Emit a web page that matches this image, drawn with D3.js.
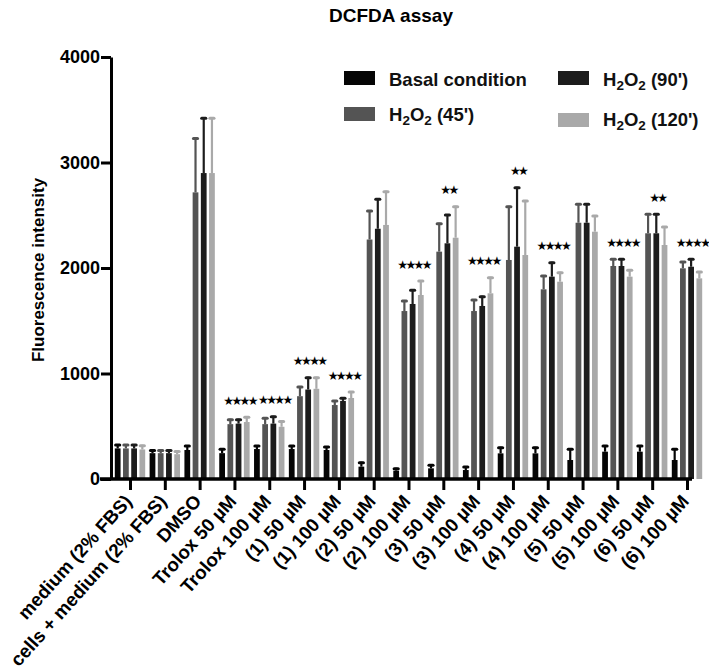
<!DOCTYPE html>
<html>
<head>
<meta charset="utf-8">
<script src="https://cdn.jsdelivr.net/npm/d3@7"></script>
<style>
  html, body { margin: 0; padding: 0; background: #fff; }
  svg { display: block; }
  text { font-family: "Liberation Sans", Arial, Helvetica, sans-serif; }
</style>
</head>
<body>
<svg id="chart" width="709" height="670"></svg>
<script>
const categories = ["medium (2% FBS)", "cells + medium (2% FBS)", "DMSO", "Trolox 50 µM", "Trolox 100 µM",
  "(1) 50 µM", "(1) 100 µM", "(2) 50 µM", "(2) 100 µM", "(3) 50 µM", "(3) 100 µM",
  "(4) 50 µM", "(4) 100 µM", "(5) 50 µM", "(5) 100 µM", "(6) 50 µM", "(6) 100 µM"];

const seriesNames = ["Basal condition", "H2O2 (45')", "H2O2 (90')", "H2O2 (120')"];

const basal    = [290, 245, 275, 245, 284, 284, 275, 117, 79, 101, 85, 243, 243, 180, 259, 259, 180];
const basalSD  = [42, 35, 47, 46, 38, 38, 38, 47, 28, 38, 38, 63, 63, 111, 63, 63, 111];
const h45      = [290, 245, 2717, 520, 520, 785, 701, 2270, 1592, 2155, 1592, 2076, 1798, 2429, 2019, 2329, 1997];
const h45SD    = [42, 35, 521, 52, 65, 97, 48, 280, 105, 274, 114, 514, 136, 184, 73, 190, 69];
const h90      = [290, 245, 2900, 525, 525, 848, 740, 2372, 1659, 2234, 1640, 2202, 1918, 2429, 2019, 2329, 2012];
const h90SD    = [42, 35, 528, 47, 75, 122, 35, 288, 139, 278, 98, 568, 142, 184, 73, 190, 80];
const h120     = [280, 235, 2900, 540, 495, 855, 768, 2408, 1744, 2287, 1760, 2123, 1870, 2344, 1918, 2218, 1902];
const h120SD   = [45, 35, 528, 55, 60, 115, 66, 325, 142, 304, 158, 522, 95, 158, 70, 180, 70];

const significance = ["", "", "", "****", "****", "****", "****", "", "****", "**", "****", "**", "****", "", "****", "**", "****"];

const yTicks = [0, 1000, 2000, 3000, 4000];
const colors = ["#050505", "#545454", "#1c1c1c", "#a9a9a9"];

const means = [basal, h45, h90, h120];
const sds = [basalSD, h45SD, h90SD, h120SD];

const svg = d3.select("#chart");

const y = d3.scaleLinear().domain([0, 4000]).range([479, 57]);
const x = d3.scalePoint().domain(categories).range([130, 687]);
const sub = d3.scaleBand().domain(d3.range(4)).range([-15.2, 15.2]).paddingInner(0.3);

// Title
svg.append("text")
  .attr("x", 391).attr("y", 22)
  .attr("text-anchor", "middle")
  .attr("font-size", 19).attr("font-weight", "bold")
  .text("DCFDA assay");

// Bars
const groups = svg.append("g").selectAll("g")
  .data(categories).join("g")
  .attr("transform", d => `translate(${x(d)},0)`);

groups.each(function(cat, ci) {
  const g = d3.select(this);
  for (let s = 0; s < 4; s++) {
    const m = means[s][ci], sd = sds[s][ci];
    const bx = sub(s), bw = sub.bandwidth();
    g.append("rect")
      .attr("x", bx).attr("width", bw)
      .attr("y", y(m)).attr("height", y(0) - y(m))
      .attr("fill", colors[s]);
    g.append("line")
      .attr("x1", bx + bw / 2).attr("x2", bx + bw / 2)
      .attr("y1", y(m)).attr("y2", y(m + sd))
      .attr("stroke", colors[s]).attr("stroke-width", 2.2);
    g.append("line")
      .attr("x1", bx + 0.8).attr("x2", bx + bw - 0.8)
      .attr("y1", y(m + sd) + 1).attr("y2", y(m + sd) + 1)
      .attr("stroke", colors[s]).attr("stroke-width", 3)
      .attr("stroke-linecap", "round");
  }
  const sig = significance[ci];
  if (sig) {
    const top = d3.max([1, 2, 3], s => means[s][ci] + sds[s][ci]);
    const cx = (sub(1) + sub(3) + sub.bandwidth()) / 2;
    g.append("text")
      .attr("x", cx + 1).attr("y", y(top) - 16)
      .attr("dy", "0.38em")
      .attr("text-anchor", "middle")
      .attr("style", "font-family: 'DejaVu Sans'; letter-spacing: -2.6px")
      .attr("font-size", 12)
      .attr("fill", "#000")
      .text(sig.replace(/\*/g, "\u2605"));
  }
});

// Y axis
const yAxis = svg.append("g")
  .attr("transform", "translate(111,0)")
  .call(d3.axisLeft(y).tickValues(yTicks).tickFormat(d3.format("d")).tickSize(10).tickSizeOuter(0).tickPadding(1));
yAxis.select(".domain").attr("stroke", "#000").attr("stroke-width", 3);
yAxis.selectAll(".tick line").attr("stroke", "#000").attr("stroke-width", 3);
yAxis.selectAll(".tick text")
  .attr("font-size", 18).attr("font-weight", "bold").attr("fill", "#000");

// X axis
const xAxis = svg.append("g")
  .attr("transform", "translate(0,479)")
  .call(d3.axisBottom(x).tickSize(11).tickSizeOuter(0).tickFormat(""));
xAxis.select(".domain").remove();
xAxis.selectAll(".tick line").attr("stroke", "#000").attr("stroke-width", 3);
svg.append("line")
  .attr("x1", 100).attr("x2", 692)
  .attr("y1", 479).attr("y2", 479)
  .attr("stroke", "#000").attr("stroke-width", 3.5);

// X labels
svg.append("g").selectAll("text")
  .data(categories).join("text")
  .attr("transform", d => `translate(${x(d) + 3},${502}) rotate(-48)`)
  .attr("text-anchor", "end")
  .attr("font-size", 18.8).attr("font-weight", "bold")
  .text(d => d);

// Y label
svg.append("text")
  .attr("transform", "translate(44,270) rotate(-90)")
  .attr("text-anchor", "middle")
  .attr("font-size", 17).attr("font-weight", "bold")
  .text("Fluorescence intensity");

// Legend
const legendItems = [
  { idx: 0, sx: 344, sy: 71, tx: 389, ty: 86 },
  { idx: 1, sx: 344, sy: 107, tx: 389, ty: 121 },
  { idx: 2, sx: 558, sy: 71, tx: 603, ty: 86 },
  { idx: 3, sx: 558, sy: 113, tx: 603, ty: 126 }
];
const lg = svg.append("g");
legendItems.forEach(it => {
  lg.append("rect")
    .attr("x", it.sx).attr("y", it.sy).attr("width", 31).attr("height", 14)
    .attr("fill", colors[it.idx]);
  const t = lg.append("text")
    .attr("x", it.tx).attr("y", it.ty)
    .attr("font-size", 18.5).attr("font-weight", "bold").attr("fill", "#111");
  const name = seriesNames[it.idx];
  if (name.startsWith("H2O2")) {
    t.append("tspan").text("H");
    t.append("tspan").attr("dy", 4).attr("font-size", 13.5).text("2");
    t.append("tspan").attr("dy", -4).text("O");
    t.append("tspan").attr("dy", 4).attr("font-size", 13.5).text("2");
    t.append("tspan").attr("dy", -4).text(name.slice(4));
  } else {
    t.text(name);
  }
});
</script>
</body>
</html>
